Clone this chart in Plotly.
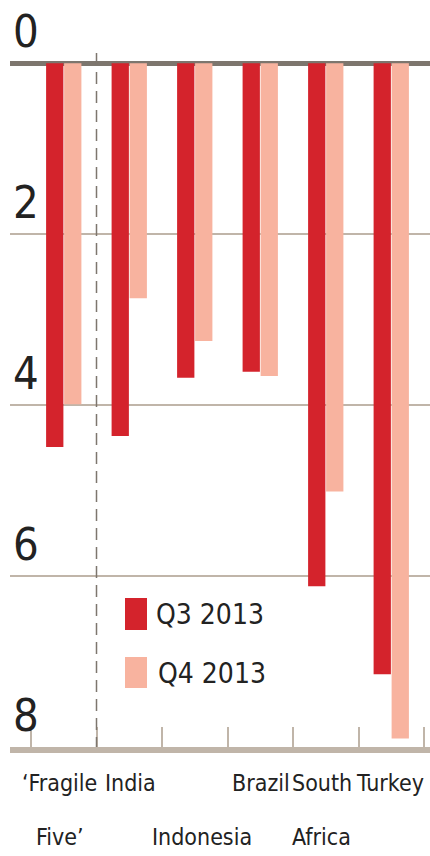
import plotly.graph_objects as go

categories = ["‘Fragile Five’", "India", "Indonesia", "Brazil", "South Africa", "Turkey"]
label_lines = [["‘Fragile", "Five’"], ["India"], ["", "Indonesia"], ["Brazil"], ["South", "Africa"], ["Turkey"]]
label_xshift = [-4, 1, 7, 1, -4, -1]
q3_2013 = [4.49, 4.36, 3.68, 3.61, 6.12, 7.15]
q4_2013 = [3.99, 2.75, 3.25, 3.66, 5.01, 7.90]
y_ticks = [0, 2, 4, 6, 8]

W, H = 430, 856
ML, MR, MT, MB = 10, 0, 12, 109
Y_TOP, Y_BOT = -0.6, 8.0

RED = "#d4232c"
SALMON = "#f8b39f"
GRID = "#c0b5a9"
ZERO = "#7d766e"
TXT = "#222222"
FONT = "DejaVu Sans Condensed, Liberation Sans Narrow, Arial Narrow, sans-serif"

def px_to_paper_x(px):
    return (px - ML) / (W - ML - MR)

def px_to_paper_y(py):
    return (H - MB - py) / (H - MT - MB)

fig = go.Figure()
fig.add_trace(go.Bar(x=categories, y=q3_2013, name="Q3 2013", marker_color=RED, marker_line_width=0))
fig.add_trace(go.Bar(x=categories, y=q4_2013, name="Q4 2013", marker_color=SALMON, marker_line_width=0))

shapes = [
    dict(type="line", xref="x", yref="y", x0=0.5, x1=0.5, y0=-0.12, y1=Y_BOT,
         line=dict(color=ZERO, width=1.5, dash="12px,7px"), layer="above"),
    dict(type="rect", xref="paper", yref="paper",
         x0=px_to_paper_x(125), x1=px_to_paper_x(147), y0=px_to_paper_y(630), y1=px_to_paper_y(598),
         fillcolor=RED, line_width=0),
    dict(type="rect", xref="paper", yref="paper",
         x0=px_to_paper_x(125), x1=px_to_paper_x(147), y0=px_to_paper_y(688), y1=px_to_paper_y(657),
         fillcolor=SALMON, line_width=0),
]

annotations = []
for t in y_ticks:
    annotations.append(dict(x=px_to_paper_x(11), xref="paper", y=t, yref="y", text=str(t),
                            showarrow=False, xanchor="left", yanchor="bottom", yshift=3,
                            font=dict(family=FONT, size=45, color=TXT)))
annotations.append(dict(x=px_to_paper_x(154), y=px_to_paper_y(614), xref="paper", yref="paper",
                        text="Q3 2013", showarrow=False, xanchor="left", yanchor="middle",
                        font=dict(family=FONT, size=28, color=TXT)))
annotations.append(dict(x=px_to_paper_x(156), y=px_to_paper_y(673), xref="paper", yref="paper",
                        text="Q4 2013", showarrow=False, xanchor="left", yanchor="middle",
                        font=dict(family=FONT, size=28, color=TXT)))

line_y = [783, 837]
for cat, lines, xs in zip(categories, label_lines, label_xshift):
    for i, ln in enumerate(lines):
        if not ln:
            continue
        annotations.append(dict(x=cat, xref="x", y=px_to_paper_y(line_y[i]), yref="paper",
                                text=ln, showarrow=False, xanchor="center", yanchor="middle",
                                xshift=xs, font=dict(family=FONT, size=23, color=TXT)))

fig.update_layout(
    width=W, height=H,
    margin=dict(l=ML, r=MR, t=MT, b=MB, pad=0),
    paper_bgcolor="white", plot_bgcolor="white",
    barmode="group", bargap=0.45, bargroupgap=0.04,
    showlegend=False,
    shapes=shapes, annotations=annotations,
    xaxis=dict(
        type="category", range=[-0.8206, 5.5916],
        showgrid=False, zeroline=False,
        showline=True, linecolor=GRID, linewidth=6,
        ticks="inside", tickson="boundaries", ticklen=20, tickwidth=2, tickcolor=GRID,
        showticklabels=False, automargin=False,
    ),
    yaxis=dict(
        range=[Y_BOT, Y_TOP], tickvals=y_ticks, showticklabels=False,
        showgrid=True, gridcolor=GRID, gridwidth=2,
        zeroline=True, zerolinecolor=ZERO, zerolinewidth=4.5,
        showline=False, automargin=False,
    ),
)

fig.write_html("out.html", config={"displayModeBar": False},
               post_script="document.body.style.margin='0';")
